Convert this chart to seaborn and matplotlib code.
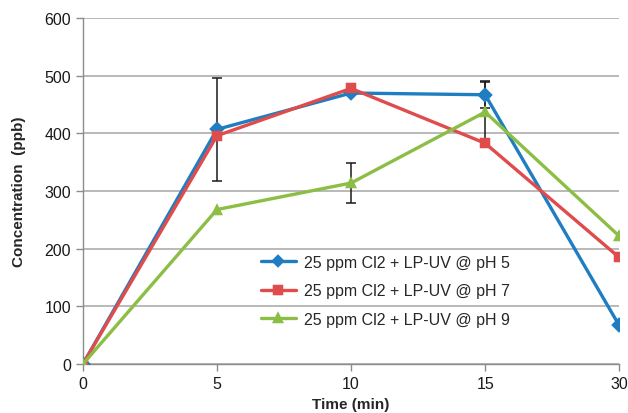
import matplotlib
matplotlib.use("Agg")
import matplotlib.pyplot as plt
import seaborn as sns
import pandas as pd

# ---- data ----
time_labels = ["0", "5", "10", "15", "30"]
series_names = ["25 ppm Cl2 + LP-UV @ pH 5",
                "25 ppm Cl2 + LP-UV @ pH 7",
                "25 ppm Cl2 + LP-UV @ pH 9"]
ph5 = [0, 407, 470, 467, 67]
ph7 = [0, 396, 478, 383, 185]
ph9 = [0, 268, 314, 437, 222]
# error bars (time label -> +/- error)
err_ph5 = {"5": 89, "15": 23}
err_ph9 = {"10": 34, "15": 52}

colors = ["#1F7DC1", "#E04B4B", "#8CBE45"]
markers = ["D", "s", "^"]

rows = []
for name, vals in zip(series_names, [ph5, ph7, ph9]):
    for t, v in zip(time_labels, vals):
        rows.append({"Time": t, "Conc": v, "Series": name})
df = pd.DataFrame(rows)

sns.set_theme(style="white")
plt.rcParams["font.family"] = ["Liberation Sans", "DejaVu Sans"]

fig = plt.figure(figsize=(6.28, 4.14), dpi=100)
ax = fig.add_axes([0.132, 0.118, 0.854, 0.836])

sns.pointplot(data=df, x="Time", y="Conc", hue="Series", order=time_labels,
              hue_order=series_names, palette=colors, markers=markers,
              linestyles="-", errorbar=None, ax=ax, markersize=6,
              linewidth=2.4, zorder=3)

# error bars
for vals, errs in [(ph5, err_ph5), (ph9, err_ph9)]:
    xs = [time_labels.index(t) for t in errs]
    ys = [vals[time_labels.index(t)] for t in errs]
    es = list(errs.values())
    ax.errorbar(xs, ys, yerr=es, fmt="none", ecolor="#1a1a1a",
                elinewidth=1.1, capsize=3.5, capthick=1.1, zorder=2)

ax.set_xlim(0, len(time_labels) - 1)
ax.set_ylim(0, 600)
ax.set_yticks(range(0, 601, 100))
ax.yaxis.grid(True, color="#a6a6a6", linewidth=1.1)
ax.xaxis.grid(False)
ax.set_axisbelow(True)

for s in ["top", "right"]:
    ax.spines[s].set_visible(False)
for s in ["left", "bottom"]:
    ax.spines[s].set_color("#8c8c8c")
    ax.spines[s].set_linewidth(1.0)

ax.tick_params(axis="both", which="major", labelsize=11.5, colors="#1a1a1a",
               length=5, width=1.0, direction="out", left=True, bottom=True)
ax.tick_params(axis="both", color="#8c8c8c")

ax.set_xlabel("Time (min)", fontsize=11, fontweight="bold", labelpad=4)
ax.set_ylabel("Concentration  (ppb)", fontsize=11, fontweight="bold", labelpad=13)

leg = ax.legend(loc="upper left", bbox_to_anchor=(0.32, 0.335), frameon=False,
                fontsize=11.5, handlelength=2.2, labelspacing=0.85,
                handletextpad=0.5, borderaxespad=0)
for h in leg.legend_handles:
    h.set_markersize(5.5)
    h.set_linewidth(2.4)

fig.savefig("out.png", dpi=100)
